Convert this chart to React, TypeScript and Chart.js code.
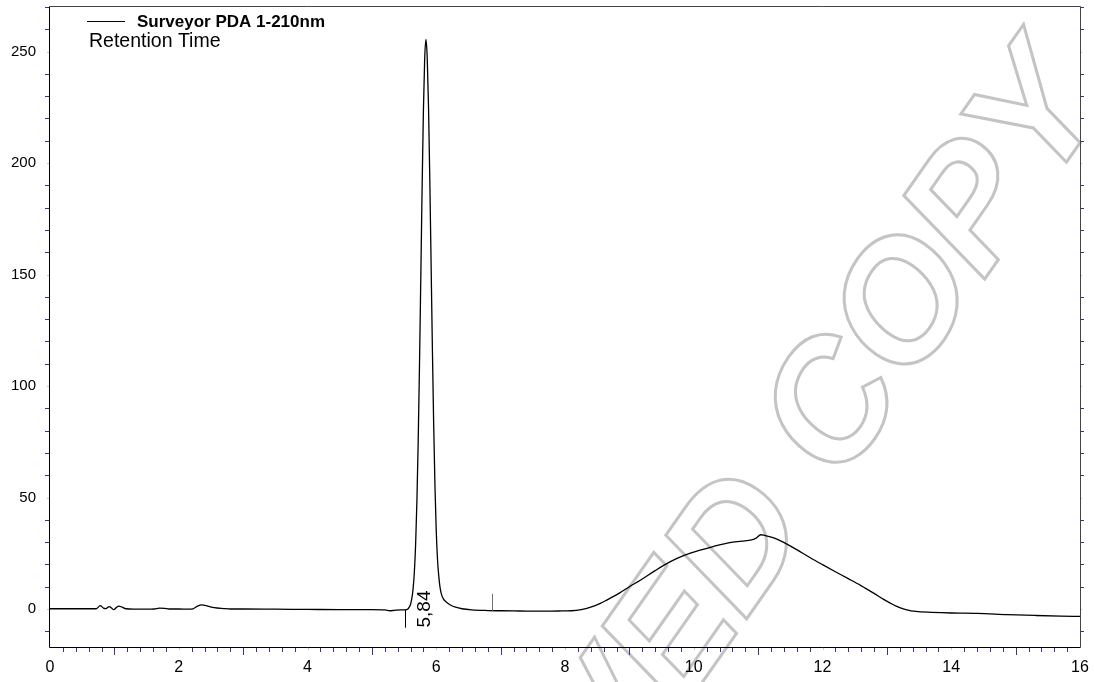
import React, { useEffect, useRef } from "react";
import { Chart, registerables } from "chart.js";

Chart.register(...registerables);

const SERIES_LABEL = "Surveyor PDA 1-210nm";
const SUBTITLE = "Retention Time";
const PEAK_LABEL = "5,84";
const PEAK_RT = 5.84;
const PEAK_START = 5.52;
const PEAK_END = 6.87;
const WATERMARK = "APPROVED COPY";

const TIME = [
  0.0, 0.3, 0.6, 0.72, 0.78, 0.83, 0.87, 0.92, 0.96, 0.99, 1.03, 1.07, 1.12, 1.18, 1.3, 1.5, 1.62, 1.7, 1.78, 1.85,
  2.0, 2.15, 2.22, 2.3, 2.36, 2.45, 2.55, 2.7, 2.8, 3.0, 3.5, 4.0, 4.5, 5.0, 5.2, 5.28, 5.35, 5.45, 5.52,
  5.56, 5.58, 5.6, 5.62, 5.64, 5.66, 5.68, 5.7, 5.72, 5.74, 5.76, 5.78, 5.8, 5.82, 5.84, 5.86, 5.88, 5.9, 5.92,
  5.94, 5.96, 5.98, 6.0, 6.02, 6.04, 6.06, 6.085, 6.115, 6.16, 6.22, 6.3, 6.4, 6.55, 6.8, 7.0, 7.3, 7.6, 7.9,
  8.1, 8.25, 8.4, 8.55, 8.65, 8.85, 9.0, 9.17, 9.4, 9.63, 9.85, 10.1, 10.3, 10.56, 10.75, 10.9, 10.97, 11.04,
  11.1, 11.19, 11.3, 11.44, 11.6, 11.81, 12.0, 12.2, 12.4, 12.59, 12.8, 12.95, 13.1, 13.2, 13.31, 13.45, 13.7,
  14.0, 14.4, 14.87, 15.3, 15.7, 16.0,
];

const SIGNAL = [
  0.1, 0.1, 0.1, 0.1, 1.5, 0.4, 0.2, 1.1, 0.3, -0.3, 0.6, 1.3, 0.8, 0.1, -0.1, -0.1, 0.0, 0.4, 0.3, 0.0,
  0.0, -0.1, 0.1, 1.4, 1.8, 1.3, 0.6, 0.2, 0.0, 0.0, -0.1, -0.2, -0.3, -0.3, -0.4, -0.8, -0.6, -0.4, -0.4,
  0.0, 0.8, 2.0, 4.6, 9.0, 16.6, 29.4, 48.8, 75.8, 109.8, 148.6, 188.3, 222.8, 246.5, 255.5, 247.0, 225.0, 192.5, 154.7,
  116.8, 82.8, 55.2, 35.0, 22.0, 14.5, 9.5, 6.2, 4.3, 3.0, 1.8, 0.8, 0.1, -0.4, -0.7, -0.8, -0.9, -1.0, -0.9,
  -0.8, -0.3, 0.8, 2.5, 4.0, 7.2, 10.0, 12.9, 17.2, 21.1, 24.0, 26.4, 28.0, 29.8, 30.4, 31.0, 31.8, 33.3,
  33.0, 32.3, 31.2, 29.2, 26.6, 23.0, 19.9, 16.7, 13.6, 10.6, 7.0, 4.3, 1.9, 0.6, -0.4, -1.1, -1.5,
  -1.8, -2.0, -2.5, -2.9, -3.2, -3.3,
];

const X_TICKS = [0, 2, 4, 6, 8, 10, 12, 14, 16];
const Y_TICKS = [0, 50, 100, 150, 200, 250];
const X_MINOR_STEP = 0.2;
const Y_MINOR_STEP = 10;

const FONT = '"Liberation Sans", Arial, sans-serif';
const TICK_BLUE = "#34349c";

const decorPlugin = {
  id: "decor",
  beforeDraw(chart: any) {
    const ctx = chart.ctx;
    ctx.save();
    ctx.fillStyle = "#ffffff";
    ctx.fillRect(0, 0, chart.width, chart.height);
    // watermark
    ctx.translate(1110, 100);
    ctx.rotate((-55 * Math.PI) / 180);
    ctx.font = `italic bold 166px ${FONT}`;
    ctx.textAlign = "right";
    ctx.textBaseline = "alphabetic";
    ctx.strokeStyle = "#c4c4c4";
    ctx.lineWidth = 3;
    ctx.lineJoin = "miter";
    ctx.strokeText(WATERMARK, 0, 0);
    ctx.restore();
  },
  afterDraw(chart: any) {
    const ctx = chart.ctx;
    const xs = chart.scales.x;
    const ys = chart.scales.y;
    const { left, right, top, bottom } = chart.chartArea;
    ctx.save();
    ctx.lineWidth = 1;

    // frame
    ctx.strokeStyle = "#000";
    ctx.beginPath();
    ctx.moveTo(left - 0.5, top - 0.5);
    ctx.lineTo(left - 0.5, bottom - 0.5);
    ctx.lineTo(right + 0.5, bottom - 0.5);
    ctx.stroke();
    ctx.strokeStyle = "#444";
    ctx.beginPath();
    ctx.moveTo(left - 0.5, top - 0.5);
    ctx.lineTo(right + 0.5, top - 0.5);
    ctx.lineTo(right + 0.5, bottom - 0.5);
    ctx.stroke();

    // y ticks (left and right)
    const yMin = Math.ceil(ys.min / Y_MINOR_STEP) * Y_MINOR_STEP;
    for (let v = yMin; v <= ys.max; v += Y_MINOR_STEP) {
      const py = Math.round(ys.getPixelForValue(v)) + 0.5;
      const major = Math.abs(v % 50) < 1e-6;
      ctx.strokeStyle = major ? "#c8c8c8" : TICK_BLUE;
      const len = major ? 2 : 4;
      ctx.beginPath();
      ctx.moveTo(left - 1 - len, py);
      ctx.lineTo(left - 1, py);
      ctx.moveTo(right + 1, py);
      ctx.lineTo(right + 1 + len - 1, py);
      ctx.stroke();
    }

    // x ticks
    const nX = Math.round((xs.max - xs.min) / X_MINOR_STEP);
    for (let i = 1; i < nX; i++) {
      const v = xs.min + i * X_MINOR_STEP;
      const px = Math.round(xs.getPixelForValue(v)) + 0.5;
      const isInt = Math.abs(v - Math.round(v)) < 1e-6;
      let len = 4;
      let col = TICK_BLUE;
      if (isInt) {
        if (Math.round(v) % 2 === 0) {
          len = 2;
          col = "#c8c8c8";
        } else {
          len = 7;
        }
      }
      ctx.strokeStyle = col;
      ctx.beginPath();
      ctx.moveTo(px, bottom);
      ctx.lineTo(px, bottom + len);
      ctx.stroke();
    }

    // integration markers
    const sx = Math.round(xs.getPixelForValue(PEAK_START)) + 0.5;
    ctx.strokeStyle = "#000";
    ctx.beginPath();
    ctx.moveTo(sx, ys.getPixelForValue(-0.4));
    ctx.lineTo(sx, ys.getPixelForValue(-8.4));
    ctx.stroke();
    const ex = Math.round(xs.getPixelForValue(PEAK_END)) + 0.5;
    ctx.strokeStyle = "#707070";
    ctx.beginPath();
    ctx.moveTo(ex, ys.getPixelForValue(-0.8));
    ctx.lineTo(ex, ys.getPixelForValue(6.8));
    ctx.stroke();

    // peak label
    ctx.save();
    ctx.translate(xs.getPixelForValue(PEAK_RT) - 1, ys.getPixelForValue(0));
    ctx.rotate(-Math.PI / 2);
    ctx.fillStyle = "#000";
    ctx.font = `19px ${FONT}`;
    ctx.textAlign = "center";
    ctx.textBaseline = "middle";
    ctx.fillText(PEAK_LABEL, 0, 0);
    ctx.restore();

    // legend
    ctx.strokeStyle = "#000";
    ctx.beginPath();
    ctx.moveTo(87, 21.5);
    ctx.lineTo(125, 21.5);
    ctx.stroke();
    ctx.fillStyle = "#000";
    ctx.textAlign = "left";
    ctx.textBaseline = "alphabetic";
    ctx.font = `bold 17px ${FONT}`;
    ctx.fillText(SERIES_LABEL, 137, 26.7);
    ctx.font = `19.5px ${FONT}`;
    ctx.fillText(SUBTITLE, 89, 46.7);
    ctx.restore();
  },
};

export default function App() {
  const ref = useRef<HTMLCanvasElement | null>(null);
  useEffect(() => {
    if (!ref.current) return;
    const chart = new Chart(ref.current, {
      type: "line",
      data: {
        datasets: [
          {
            label: SERIES_LABEL,
            data: TIME.map((t, i) => ({ x: t, y: SIGNAL[i] })),
            borderColor: "#000",
            borderWidth: 1.3,
            pointRadius: 0,
            fill: false,
            cubicInterpolationMode: "monotone",
          },
        ],
      },
      options: {
        animation: false,
        responsive: true,
        maintainAspectRatio: false,
        layout: { padding: { top: 7, right: 14, left: 0, bottom: 0 } },
        plugins: { legend: { display: false }, tooltip: { enabled: false } },
        scales: {
          x: {
            type: "linear",
            min: 0,
            max: 16,
            afterBuildTicks: (s: any) => {
              s.ticks = X_TICKS.map((v) => ({ value: v }));
            },
            afterFit: (s: any) => {
              s.height = 34;
              s.paddingLeft = 0;
              s.paddingRight = 0;
              s.paddingTop = 0;
              s.paddingBottom = 0;
            },
            grid: { display: false, drawTicks: false },
            border: { display: false },
            ticks: {
              color: "#000",
              font: { family: FONT, size: 16 },
              padding: 10,
              maxRotation: 0,
              autoSkip: false,
            },
          },
          y: {
            type: "linear",
            min: -17.5,
            max: 270,
            afterBuildTicks: (s: any) => {
              s.ticks = Y_TICKS.map((v) => ({ value: v }));
            },
            afterFit: (s: any) => {
              s.width = 50;
              s.paddingLeft = 0;
              s.paddingRight = 0;
              s.paddingTop = 0;
              s.paddingBottom = 0;
            },
            grid: { display: false, drawTicks: false },
            border: { display: false },
            ticks: {
              color: "#000",
              font: { family: FONT, size: 15 },
              padding: 14,
              autoSkip: false,
            },
          },
        },
      },
      plugins: [decorPlugin],
    });
    return () => chart.destroy();
  }, []);
  return (
    <div style={{ position: "fixed", left: 0, top: 0, width: 1094, height: 682, background: "#fff" }}>
      <canvas ref={ref} />
    </div>
  );
}
